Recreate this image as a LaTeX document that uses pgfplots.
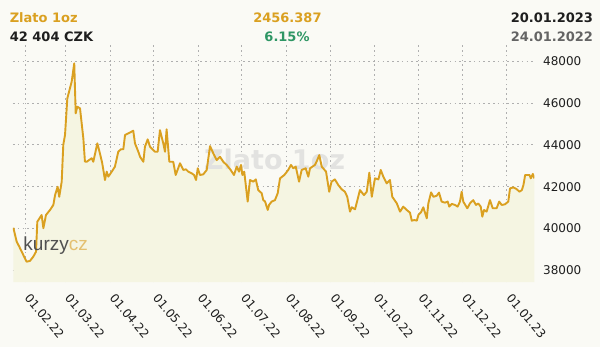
\documentclass[border=0pt]{standalone}
\usepackage{pgfplots}
\pgfplotsset{compat=1.18}
\usepackage{pgfplotstable}
\usepackage{fontspec}
\setmainfont{DejaVu Sans}
\newfontfamily\logofont{Liberation Sans}
\definecolor{bgc}{RGB}{250,250,245}
\definecolor{goldc}{RGB}{218,160,32}
\definecolor{fillc}{RGB}{245,245,226}
\definecolor{greenc}{RGB}{46,150,100}
\definecolor{gridc}{RGB}{175,175,175}
\definecolor{greyd}{RGB}{100,100,100}
\definecolor{txt}{RGB}{30,30,30}
\definecolor{wmark}{RGB}{226,226,224}
\definecolor{logog}{RGB}{80,80,80}
\definecolor{logoc}{RGB}{228,192,112}
\pgfplotstableread{
d v
23 40040
25.3 39380
27.1 39140
29.9 38740
32.2 38420
34.5 38460
36.8 38660
38.7 38900
39.6 40330
42.6 40650
43.8 40020
45.6 40650
48.4 40890
50.7 41130
51.9 41600
53.7 42000
54.8 41520
56.5 42240
57.6 44000
58.8 44470
60.4 46220
63.4 47010
65.2 47890
66.2 45500
67.3 45820
69.2 45740
71.5 44310
72.6 43200
73.8 43190
75.4 43270
77.3 43360
78.4 43190
81.2 44070
83.0 43590
84.6 43120
86.5 42320
87.7 42720
88.8 42480
91.2 42720
93.4 42960
95.7 43670
97.6 43790
99.2 43790
100.4 44470
102.7 44550
106.1 44670
107.3 44070
109.6 43670
110.8 43430
113.1 43190
114.2 43910
116.1 44260
117.7 43910
121.2 43670
123.0 43670
124.6 44700
126.9 44070
128.1 43670
129.2 44740
131.1 43190
133.8 43190
135.5 42560
138.5 43120
140.8 42800
142.6 42830
144.2 42720
146.6 42640
148.2 42560
149.6 42320
150.8 42880
152.3 42560
154.6 42590
157.0 42800
159.3 43940
161.6 43590
163.9 43270
166.2 43430
168.5 43190
170.8 43040
173.6 42800
175.9 42560
177.8 42960
179.4 42720
180.8 43040
181.7 42560
183.0 42720
185.4 41290
187.0 42320
189.3 42240
191.0 42350
192.7 41840
195.1 41690
196.2 41360
197.4 41300
199.3 40890
200.2 41130
202.0 41290
204.3 41360
206.2 41690
207.8 42400
210.8 42560
213.5 42800
215.4 43040
217.0 42880
218.7 42960
221.0 42240
222.8 42800
225.6 42880
227.4 42480
228.6 42880
232.0 43040
233.6 43270
235.0 43510
236.7 42960
239.7 42720
241.9 41760
243.5 42240
245.8 42350
248.2 42080
250.5 41880
252.8 41760
254.4 41520
256.3 40810
257.5 41020
259.8 40920
263.2 41840
266.0 41600
267.9 41760
269.7 42670
271.4 41520
273.6 42400
276.0 42350
277.6 42800
279.4 42480
281.7 42160
284.0 42320
285.6 41520
288.7 41210
291.0 40810
293.2 41050
295.6 40890
297.9 40760
299.1 40380
300.9 40410
302.6 40380
303.7 40650
305.5 40780
307.1 41020
309.5 40490
310.6 41210
312.5 41730
314.1 41520
316.4 41570
318.0 41720
319.8 41290
322.1 41240
324.0 41290
325.1 41050
326.8 41180
329.1 41130
330.9 41050
332.5 41290
333.7 41760
334.8 41290
337.6 40970
339.5 41210
341.7 41360
343.6 41130
345.2 41200
346.9 41050
348.0 40570
349.2 40890
351.0 40810
353.3 41360
355.2 40970
357.9 40970
359.7 41290
361.4 41130
363.7 41160
366.0 41290
367.2 41920
369.5 41970
371.9 41880
373.7 41760
375.4 41840
376.5 42080
377.7 42560
380.7 42560
381.6 42400
383.0 42610
384.0 42400
}\goldtab
\begin{document}
\begin{tikzpicture}
\fill[bgc] (-13bp,-65bp) rectangle (587bp,282bp);
\useasboundingbox (-13bp,-65bp) rectangle (587bp,282bp);
\begin{axis}[
  at={(0,0)}, anchor=south west,
  width=521.4bp, height=239bp, scale only axis,
  xmin=22.75, xmax=384.1, ymin=37452, ymax=48860,
  axis line style={draw=none},
  major tick length=0pt,
  tick style={draw=none},
  scaled y ticks=false, scaled x ticks=false,
  grid=major,
  major grid style={draw=gridc, line width=0.8bp, dash pattern=on 1.6bp off 3.2bp},
  xtick={31,59,90,120,151,181,212,243,273,304,334,365},
  xticklabels={01.02.22,01.03.22,01.04.22,01.05.22,01.06.22,01.07.22,01.08.22,01.09.22,01.10.22,01.11.22,01.12.22,01.01.23},
  ytick={38000,40000,42000,44000,46000,48000},
  yticklabels={38000,40000,42000,44000,46000,48000},
  yticklabel pos=right,
  ticklabel style={font=\fontsize{12bp}{14bp}\selectfont, text=txt, inner sep=0pt},
  yticklabel style={anchor=west, xshift=8.6bp},
  xticklabel style={xshift=6bp, yshift=-10.5bp, rotate=-50, anchor=north west},
]
\addplot[fill=fillc, draw=none] table[x=d,y=v]{\goldtab} \closedcycle;
\node[text=wmark, font=\bfseries\fontsize{27bp}{30bp}\selectfont] at (axis cs:204,43300) {Zlato 1oz};
\addplot[draw=goldc, line width=1.9bp, line join=round] table[x=d,y=v]{\goldtab};
\end{axis}
\node[anchor=base west, inner sep=0pt, font=\logofont\fontsize{19bp}{20bp}\selectfont] at (10.3bp,32bp) {\textcolor{logog}{kurzy}\textcolor{logoc}{cz}};
\node[anchor=base west, inner sep=0pt, text=goldc, font=\bfseries\fontsize{13bp}{15bp}\selectfont] at (-3.4bp,259bp) {Zlato 1oz};
\node[anchor=base west, inner sep=0pt, text=txt, font=\bfseries\fontsize{13bp}{15bp}\selectfont] at (-3.4bp,240.7bp) {42 404 CZK};
\node[anchor=base, inner sep=0pt, text=goldc, font=\bfseries\fontsize{13bp}{15bp}\selectfont] at (274.4bp,259bp) {2456.387};
\node[anchor=base, inner sep=0pt, text=greenc, font=\bfseries\fontsize{13bp}{15bp}\selectfont] at (274bp,240.7bp) {6.15\%};
\node[anchor=base east, inner sep=0pt, text=txt, font=\bfseries\fontsize{13bp}{15bp}\selectfont] at (580.2bp,259.8bp) {20.01.2023};
\node[anchor=base east, inner sep=0pt, text=greyd, font=\bfseries\fontsize{13bp}{15bp}\selectfont] at (580.2bp,240.7bp) {24.01.2022};
\end{tikzpicture}
\end{document}
